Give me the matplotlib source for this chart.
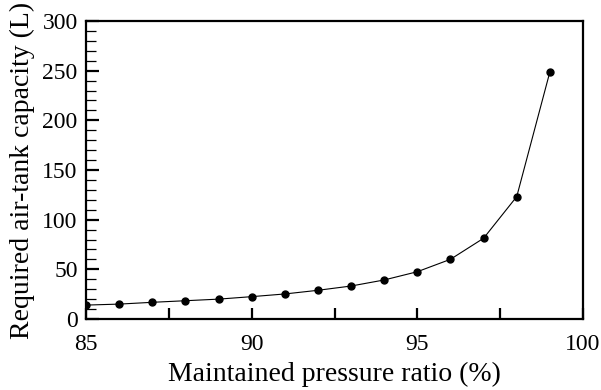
import matplotlib
matplotlib.use("Agg")
import matplotlib.pyplot as plt
from matplotlib.ticker import MultipleLocator

ratio = [85, 86, 87, 88, 89, 90, 91, 92, 93, 94, 95, 96, 97, 98, 99]
capacity = [14, 15, 16.8, 18.4, 20, 22.5, 25.2, 28.9, 33.2, 39.3, 47.6, 60.1, 81.3, 123.2, 248.7]

plt.rcParams['font.family'] = ['Liberation Serif', 'DejaVu Serif']

fig = plt.figure(figsize=(6.01, 3.90), dpi=100)
ax = fig.add_axes([86/601, 1-319/390, (583-86)/601, (319-21)/390])
ax.plot(ratio, capacity, color='black', lw=0.8, marker='o', ms=5)
ax.set_xlim(85, 100)
ax.set_ylim(0, 300)
ax.xaxis.set_major_locator(MultipleLocator(5))
ax.xaxis.set_minor_locator(MultipleLocator(2.5))
ax.yaxis.set_major_locator(MultipleLocator(50))
ax.yaxis.set_minor_locator(MultipleLocator(10))
for s in ax.spines.values():
    s.set_linewidth(1.6)
ax.tick_params(which='both', direction='in', top=False, right=False, labelsize=17)
ax.tick_params(axis='x', which='major', length=8, width=1.6, pad=11)
ax.tick_params(axis='x', which='minor', length=8, width=1.6)
ax.tick_params(axis='y', which='major', length=9, width=1.6, pad=6)
ax.tick_params(axis='y', which='minor', length=7, width=0.9)
ax.set_xlabel('Maintained pressure ratio (%)', fontsize=20, labelpad=5)
ax.set_ylabel('Required air-tank capacity (L)', fontsize=20, labelpad=5)
fig.savefig('out.png', dpi=100)
